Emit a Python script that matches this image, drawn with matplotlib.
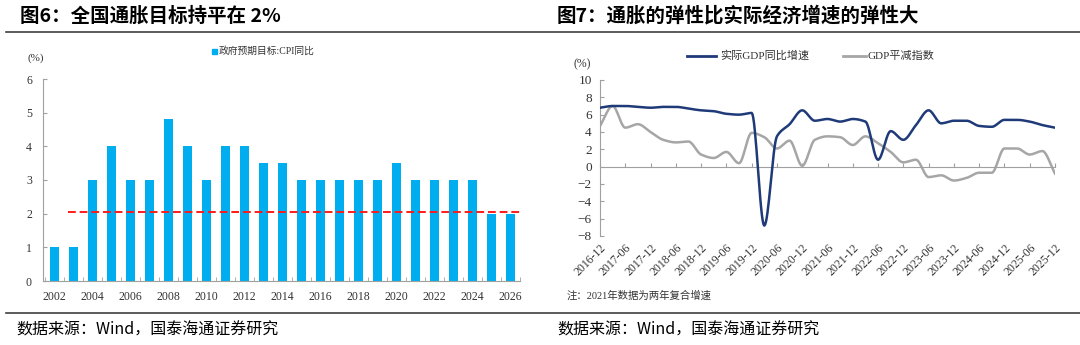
import numpy as np
import matplotlib
matplotlib.use("Agg")
import matplotlib.pyplot as plt

plt.rcParams['font.family'] = ['Liberation Serif', 'Noto Sans CJK SC', 'DejaVu Sans']

# ---- data: fig 6 (CPI target) ----
years = list(range(2002, 2027))
cpi_target = [1, 1, 3, 4, 3, 3, 4.8, 4, 3, 4, 4, 3.5, 3.5, 3, 3, 3, 3, 3, 3.5, 3, 3, 3, 3, 2, 2]
target_line = 2.05

# ---- data: fig 7 (quarterly) ----
quarters = ['2016-12', '2017-03', '2017-06', '2017-09', '2017-12', '2018-03', '2018-06', '2018-09',
            '2018-12', '2019-03', '2019-06', '2019-09', '2019-12', '2020-03', '2020-06', '2020-09',
            '2020-12', '2021-03', '2021-06', '2021-09', '2021-12', '2022-03', '2022-06', '2022-09',
            '2022-12', '2023-03', '2023-06', '2023-09', '2023-12', '2024-03', '2024-06', '2024-09',
            '2024-12', '2025-03', '2025-06', '2025-09', '2025-12']
real_gdp = [6.8, 7.0, 7.0, 6.9, 6.8, 6.9, 6.9, 6.7, 6.5, 6.4, 6.1, 6.0, 6.2, -6.8, 3.5, 4.9,
            6.5, 5.3, 5.5, 5.2, 5.5, 5.2, 0.8, 4.1, 3.1, 4.8, 6.5, 5.0, 5.3, 5.3, 4.7, 4.6,
            5.4, 5.4, 5.2, 4.8, 4.5]
deflator = [4.7, 7.0, 4.5, 4.9, 4.0, 3.1, 2.8, 2.9, 1.4, 1.0, 1.7, 0.4, 3.9, 3.4, 2.1, 3.0,
            0.1, 3.1, 3.5, 3.4, 2.5, 3.5, 2.7, 1.7, 0.5, 0.8, -1.2, -1.0, -1.6, -1.3, -0.7, -0.7,
            2.1, 2.1, 1.4, 1.8, -0.8]
tick_labels = quarters[::2]


def smooth(y, n=16):
    # monotone cubic hermite (fritsch-carlson) so the curve does not overshoot the points
    y = np.asarray(y, float)
    d = np.diff(y)
    m = np.zeros_like(y)
    m[0], m[-1] = d[0], d[-1]
    for i in range(1, len(y) - 1):
        if d[i - 1] * d[i] > 0:
            m[i] = 2 / (1 / d[i - 1] + 1 / d[i])
    xs, ys = [], []
    t = np.linspace(0, 1, n, endpoint=False)
    h00 = 2 * t ** 3 - 3 * t ** 2 + 1
    h10 = t ** 3 - 2 * t ** 2 + t
    h01 = -2 * t ** 3 + 3 * t ** 2
    h11 = t ** 3 - t ** 2
    for i in range(len(y) - 1):
        xs.append(i + t)
        ys.append(h00 * y[i] + h10 * m[i] + h01 * y[i + 1] + h11 * m[i + 1])
    xs.append([len(y) - 1])
    ys.append([y[-1]])
    return np.concatenate(xs), np.concatenate(ys)


W, H = 1080, 345
fig = plt.figure(figsize=(W / 100, H / 100), dpi=100)


def px(x, y):
    return x / W, 1 - y / H


def box(x0, y0, x1, y1):
    return [x0 / W, 1 - y1 / H, (x1 - x0) / W, (y1 - y0) / H]


grey = '#A0A0A0'
cjk = ['Noto Sans CJK SC', 'DejaVu Sans']
mixed = ['Liberation Serif', 'Noto Sans CJK SC']

# titles and rules
fig.text(*px(20, 16), '图6：全国通胀目标持平在 2%', fontsize=14, fontweight='bold', family=cjk, va='center')
fig.text(*px(557, 16), '图7：通胀的弹性比实际经济增速的弹性大', fontsize=14, fontweight='bold', family=cjk,
         va='center')
fig.add_artist(plt.Line2D([6 / W, 1], [1 - 32 / H] * 2, color='#404040', lw=1.2))
fig.add_artist(plt.Line2D([6 / W, 1], [1 - 313 / H] * 2, color='#404040', lw=1.2))
fig.text(*px(16, 330), '数据来源：Wind，国泰海通证券研究', fontsize=11.5, family=cjk, va='center')
fig.text(*px(557, 330), '数据来源：Wind，国泰海通证券研究', fontsize=11.5, family=cjk, va='center')

# ---- left chart ----
ax1 = fig.add_axes(box(43, 79, 520, 281))
ax1.bar(years, cpi_target, width=0.44, color='#00AEEF', zorder=2)
ax1.plot([years[0] + 0.7, years[-1] + 0.7], [target_line, target_line], color='#FF1A1A', lw=1.4,
         ls=(0, (4, 2)), zorder=3)
ax1.set_xlim(years[0] - 0.6, years[-1] + 0.5)
ax1.set_ylim(0, 6)
ax1.set_yticks(range(0, 7))
ax1.set_xticks(years[::2])
ax1.set_xticks(np.arange(years[0] - 0.5, years[-1] + 1, 1), minor=True)
for s in ['top', 'right']:
    ax1.spines[s].set_visible(False)
for s in ['left', 'bottom']:
    ax1.spines[s].set_color(grey)
ax1.tick_params(axis='x', which='major', length=0, labelsize=8.5, pad=7, colors='#333333')
ax1.tick_params(axis='x', which='minor', length=3, direction='in', color=grey)
ax1.tick_params(axis='y', length=3, direction='in', color=grey, labelsize=8.5, pad=8,
                labelcolor='#333333')
fig.text(*px(27, 58), '(%)', fontsize=8, color='#333333', va='center')
fig.add_artist(plt.Rectangle(px(212, 54), 5 / W, 5 / H, color='#00AEEF'))
fig.text(*px(219, 51), '政府预期目标:CPI同比', fontsize=7, family=mixed, color='#333333', va='center')

# ---- right chart ----
ax2 = fig.add_axes(box(600, 80, 1055, 236))
xg, yg = smooth(deflator)
xb, yb = smooth(real_gdp)
ax2.plot(xg, yg, color='#A6A6A6', lw=1.8, zorder=2)
ax2.plot(xb, yb, color='#1F3A78', lw=1.8, zorder=3)
ax2.set_xlim(0, len(quarters) - 1)
ax2.set_ylim(-8, 10)
ax2.set_yticks(range(-8, 11, 2))
for s in ['top', 'right']:
    ax2.spines[s].set_visible(False)
ax2.spines['left'].set_color(grey)
ax2.spines['bottom'].set_position(('data', 0))
ax2.spines['bottom'].set_color(grey)
ax2.set_xticks(range(0, len(quarters), 2))
ax2.tick_params(axis='x', length=3, direction='in', color=grey, labelbottom=False)
ax2.tick_params(axis='y', length=3, direction='in', color=grey, labelsize=9.5, pad=6,
                labelcolor='#333333')
sec = ax2.secondary_xaxis('bottom')
sec.set_xticks(range(0, len(quarters), 2), tick_labels, rotation=45, ha='right',
               rotation_mode='anchor')
sec.tick_params(length=0, labelsize=8.5, pad=4, labelcolor='#333333')
sec.spines['bottom'].set_visible(False)

fig.text(*px(573, 64), '(%)', fontsize=8.5, color='#333333', va='center')
fig.add_artist(plt.Line2D([687 / W, 716 / W], [1 - 56 / H] * 2, color='#1F3A78', lw=2))
fig.text(*px(720, 56), '实际GDP同比增速', fontsize=8, family=mixed, color='#333333', va='center')
fig.add_artist(plt.Line2D([843 / W, 866 / W], [1 - 56 / H] * 2, color='#A6A6A6', lw=2))
fig.text(*px(868, 56), 'GDP平减指数', fontsize=8, family=mixed, color='#333333', va='center')
fig.text(*px(567, 296), '注：2021年数据为两年复合增速', fontsize=7.5, family=mixed, color='#333333',
         va='center')

fig.savefig('out.png', dpi=100)
